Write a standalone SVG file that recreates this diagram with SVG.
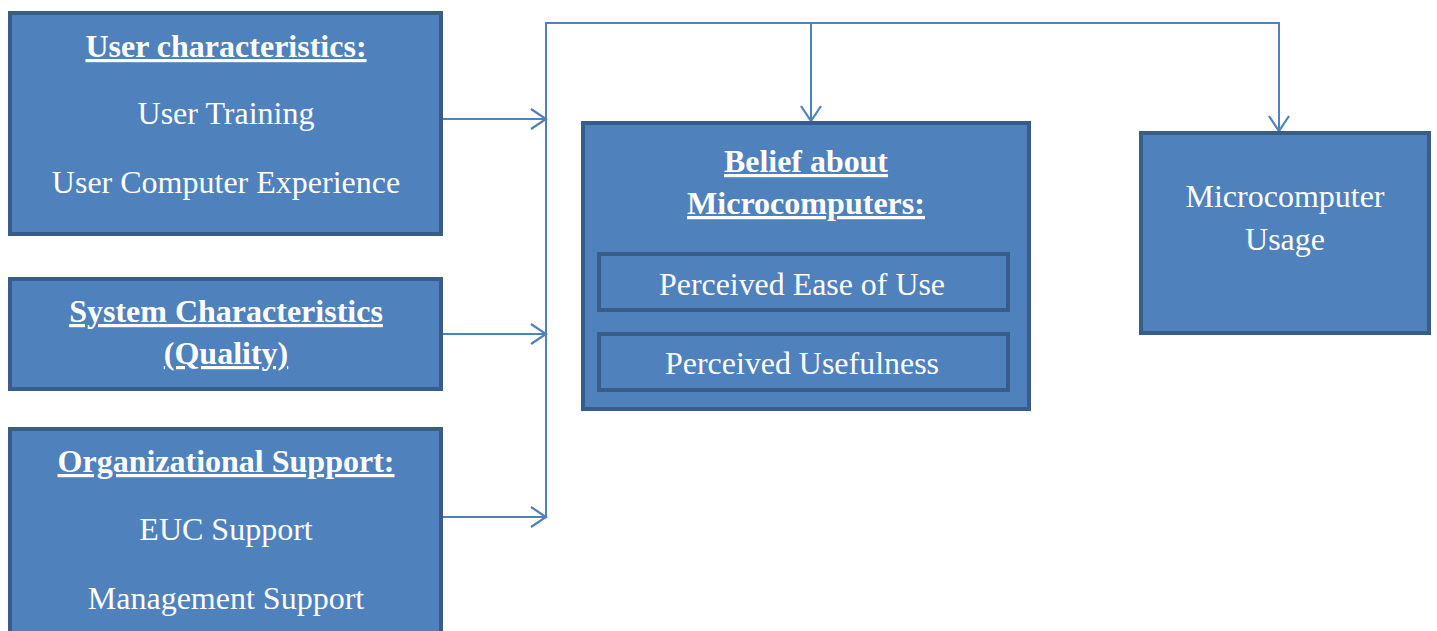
<svg xmlns="http://www.w3.org/2000/svg" width="1437" height="631" viewBox="0 0 1437 631">
<defs>
<marker id="arr" markerWidth="20" markerHeight="24" refX="17" refY="12" orient="auto" markerUnits="userSpaceOnUse">
<path d="M2,2 L17,12 L2,22" fill="none" stroke="#4F81BD" stroke-width="2.2"/>
</marker>
</defs>
<style>
.box{fill:#4F81BD;stroke:#385D8A;stroke-width:4}
.t{font-family:"Liberation Serif","Times New Roman",serif;font-size:32px;fill:#FFFFFF;text-anchor:middle}
.b{font-weight:bold;text-decoration:underline}
.c{fill:none;stroke:#4F81BD;stroke-width:2}
</style>
<rect width="1437" height="631" fill="#FFFFFF"/>
<g id="connectors">
<line class="c" x1="443" y1="119" x2="546" y2="119" marker-end="url(#arr)"/>
<line class="c" x1="443" y1="334" x2="546" y2="334" marker-end="url(#arr)"/>
<line class="c" x1="443" y1="517" x2="546" y2="517" marker-end="url(#arr)"/>
<polyline class="c" points="546,518 546,23 1279,23 1279,131" marker-end="url(#arr)"/>
<line class="c" x1="811" y1="23" x2="811" y2="121" marker-end="url(#arr)"/>
</g>
<g id="user">
<rect class="box" x="10" y="13" width="431" height="221"/>
<text class="t b" x="226" y="57">User characteristics:</text>
<text class="t" x="226" y="124">User Training</text>
<text class="t" x="226" y="193">User Computer Experience</text>
</g>
<g id="system">
<rect class="box" x="10" y="279" width="431" height="110"/>
<text class="t b" x="226" y="322">System Characteristics</text>
<text class="t b" x="226" y="364">(Quality)</text>
</g>
<g id="org">
<rect class="box" x="10" y="429" width="431" height="210"/>
<text class="t b" x="226" y="472">Organizational Support:</text>
<text class="t" x="226" y="540">EUC Support</text>
<text class="t" x="226" y="609">Management Support</text>
</g>
<g id="belief">
<rect class="box" x="583" y="123" width="446" height="286"/>
<text class="t b" x="806" y="172" textLength="164" lengthAdjust="spacingAndGlyphs">Belief about</text>
<text class="t b" x="806" y="214" textLength="238" lengthAdjust="spacingAndGlyphs">Microcomputers:</text>
<g id="ease">
<rect class="box" x="599" y="254" width="409" height="56"/>
<text class="t" x="802" y="295" textLength="286" lengthAdjust="spacingAndGlyphs">Perceived Ease of Use</text>
</g>
<g id="useful">
<rect class="box" x="599" y="334" width="409" height="56"/>
<text class="t" x="802" y="374" textLength="274" lengthAdjust="spacingAndGlyphs">Perceived Usefulness</text>
</g>
</g>
<g id="usage">
<rect class="box" x="1141" y="133" width="288" height="200"/>
<text class="t" x="1285" y="207">Microcomputer</text>
<text class="t" x="1285" y="250">Usage</text>
</g>
</svg>
